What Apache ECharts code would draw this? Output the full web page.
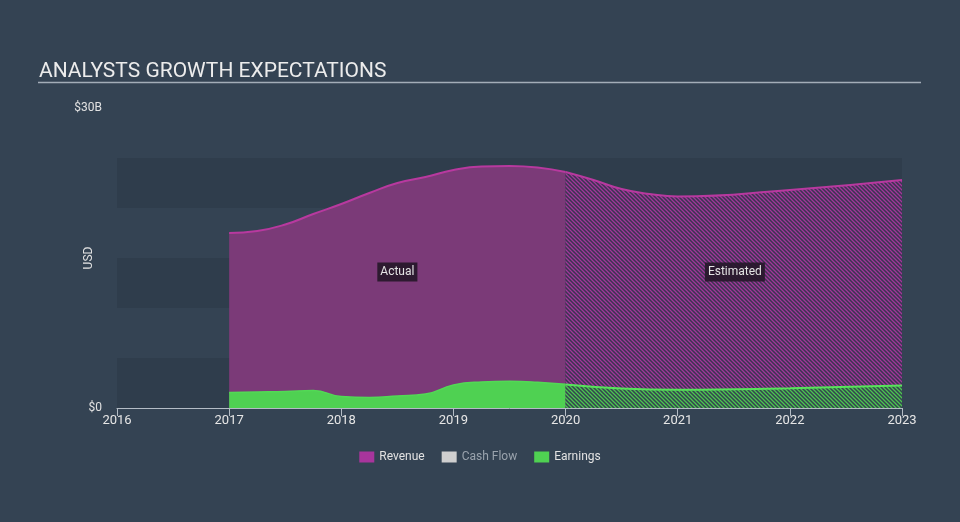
<!DOCTYPE html>
<html>
<head>
<meta charset="utf-8">
<script src="https://cdn.jsdelivr.net/npm/echarts@6/dist/echarts.min.js"></script>
<style>
  html, body { margin: 0; padding: 0; background: #344353; }
  #chart { width: 960px; height: 522px; }
</style>
</head>
<body>
<div id="chart"></div>
<script>
// all values in billions of USD, x as decimal years
const revenueActualYears = [2017, 2017.25, 2017.5, 2017.75, 2018, 2018.25, 2018.5, 2018.75, 2019, 2019.25, 2019.5, 2019.75, 2020]
const revenueActual = [17.5, 17.7, 18.35, 19.4, 20.4, 21.5, 22.5, 23.1, 23.8, 24.15, 24.2, 24.05, 23.6]
const revenueEstYears = [2020, 2020.25, 2020.5, 2020.75, 2021, 2022, 2023]
const revenueEst = [23.6, 22.8, 21.9, 21.4, 21.15, 21.8, 22.8]

const earningsActualYears = [2017, 2017.25, 2017.5, 2017.75, 2018, 2018.25, 2018.5, 2018.75, 2019, 2019.25, 2019.5, 2019.75, 2020]
const earningsActual = [1.55, 1.6, 1.65, 1.75, 1.15, 1.05, 1.2, 1.4, 2.3, 2.6, 2.67, 2.58, 2.37]
const earningsEstYears = [2020, 2020.5, 2021, 2022, 2023]
const earningsEst = [2.35, 1.95, 1.82, 1.97, 2.25]

const legendNames = ['Revenue', 'Cash Flow', 'Earnings']
const periodLabels = ['Actual', 'Estimated']
const periodLabelPos = [[2018.5, 13.6], [2021.51, 13.6]]

const bg = '#344353'

function pair(xs, ys) {
  return xs.map((x, i) => [x, ys[i]])
}

// diagonal hatch tile used for the estimated part
function hatch(back, stroke) {
  const s = 4
  const c = document.createElement('canvas')
  c.width = s
  c.height = s
  const ctx = c.getContext('2d')
  ctx.fillStyle = back
  ctx.fillRect(0, 0, s, s)
  ctx.strokeStyle = stroke
  ctx.lineWidth = 1.3
  ctx.beginPath()
  ctx.moveTo(0, 0); ctx.lineTo(s, s)
  ctx.moveTo(-1, s - 1); ctx.lineTo(1, s + 1)
  ctx.moveTo(s - 1, -1); ctx.lineTo(s + 1, 1)
  ctx.stroke()
  return c
}

const chart = echarts.init(document.getElementById('chart'))

const labelStyle = {
  show: true,
  position: 'inside',
  formatter: '{b}',
  color: '#e4e4e4',
  fontSize: 12,
  fontFamily: 'Roboto',
  backgroundColor: 'rgba(38, 24, 42, 0.92)',
  padding: [4, 3, 3, 3]
}

chart.setOption({
  animation: false,
  backgroundColor: bg,
  textStyle: { fontFamily: 'Roboto' },
  title: {
    text: 'ANALYSTS GROWTH EXPECTATIONS',
    left: 34,
    top: 56,
    textStyle: { color: '#ececec', fontSize: 21, fontWeight: 'normal', fontFamily: 'Roboto' }
  },
  graphic: [
    {
      type: 'line',
      shape: { x1: 38, y1: 82.5, x2: 921, y2: 82.5 },
      style: { stroke: '#a3adb8', lineWidth: 1.5 }
    }
  ],
  legend: {
    top: 446,
    left: 'center',
    icon: 'rect',
    itemWidth: 15,
    itemHeight: 11,
    itemGap: 17,
    textStyle: { color: '#e2e2e2', fontSize: 12 },
    data: [
      { name: legendNames[0], itemStyle: { color: '#a8359c' } },
      { name: legendNames[1], itemStyle: { color: '#cfcfcf' }, textStyle: { color: '#9aa3ad' } },
      { name: legendNames[2], itemStyle: { color: '#4fd152' } }
    ]
  },
  grid: { left: 117, right: 58, top: 108, bottom: 114 },
  xAxis: {
    type: 'value',
    min: 2016,
    max: 2023,
    interval: 1,
    axisLine: { lineStyle: { color: '#b4bcc5', width: 1 } },
    axisTick: { show: true, length: 8, lineStyle: { color: '#b4bcc5' } },
    axisLabel: { color: '#e6e6e6', fontSize: 13, margin: 6, formatter: v => String(v) },
    splitLine: { show: false }
  },
  yAxis: {
    type: 'value',
    min: 0,
    max: 30,
    interval: 5,
    name: 'USD',
    nameLocation: 'middle',
    nameGap: 22,
    nameMoveOverlap: false,
    nameTextStyle: { color: '#e2e2e2', fontSize: 12 },
    axisLine: { show: false },
    axisTick: { show: false },
    axisLabel: {
      color: '#e2e2e2',
      fontSize: 12,
      margin: 15,
      formatter: v => (v === 0 ? '$0' : v === 30 ? '$30B' : '')
    },
    splitLine: { show: false },
    splitArea: { show: true, areaStyle: { color: ['#2f3d4c', 'rgba(0,0,0,0)'] } }
  },
  series: [
    {
      name: 'Revenue',
      type: 'line',
      smooth: 0.5,
      symbol: 'none',
      z: 2,
      data: pair(revenueActualYears, revenueActual),
      lineStyle: { color: '#b8399f', width: 2 },
      itemStyle: { color: '#a8359c' },
      areaStyle: { color: '#7b3a78', opacity: 1 },
      markPoint: {
        symbol: 'rect',
        symbolSize: 0,
        label: labelStyle,
        data: [{ name: periodLabels[0], coord: periodLabelPos[0] }]
      }
    },
    {
      name: 'Revenue',
      type: 'line',
      smooth: 0.5,
      symbol: 'none',
      z: 2,
      data: pair(revenueEstYears, revenueEst),
      lineStyle: { color: '#b8399f', width: 2 },
      itemStyle: { color: '#a8359c' },
      areaStyle: { color: { image: hatch('#3a3550', '#a2369b'), repeat: 'repeat' }, opacity: 1 },
      markPoint: {
        symbol: 'rect',
        symbolSize: 0,
        label: labelStyle,
        data: [{ name: periodLabels[1], coord: periodLabelPos[1] }]
      }
    },
    {
      name: 'Cash Flow',
      type: 'line',
      symbol: 'none',
      data: [],
      itemStyle: { color: '#cfcfcf' }
    },
    {
      name: 'Earnings',
      type: 'line',
      smooth: 0.5,
      symbol: 'none',
      z: 3,
      data: pair(earningsActualYears, earningsActual),
      lineStyle: { color: '#52d955', width: 1.5 },
      itemStyle: { color: '#4fd152' },
      areaStyle: { color: '#4fd152', opacity: 1 }
    },
    {
      name: 'Earnings',
      type: 'line',
      smooth: 0.5,
      symbol: 'none',
      z: 3,
      data: pair(earningsEstYears, earningsEst),
      lineStyle: { color: '#58e35b', width: 2 },
      itemStyle: { color: '#4fd152' },
      areaStyle: { color: { image: hatch('#344350', '#4cc64f'), repeat: 'repeat' }, opacity: 1 }
    }
  ]
})
</script>
</body>
</html>
